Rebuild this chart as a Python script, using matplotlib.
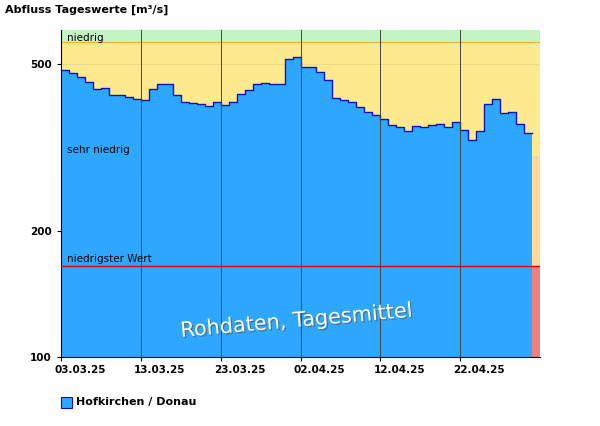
import matplotlib
matplotlib.use("Agg")
import matplotlib.pyplot as plt
import matplotlib.patheffects as pe
import numpy as np

values = [484,476,465,453,436,438,422,422,418,413,410,436,448,448,422,406,404,402,397,406,
          399,406,424,434,447,451,447,448,514,520,492,492,479,458,416,410,406,395,384,378,
          370,358,354,346,356,354,358,360,354,364,348,329,346,402,413,382,384,360,343]
tick_labels = ["03.03.25","13.03.25","23.03.25","02.04.25","12.04.25","22.04.25"]
tick_days = [0,10,20,30,40,50]
y_ticks = [100,200,500]
thr_niedrig = 565
thr_sehr = 300
thr_min = 165
ymax = 603
ndays = 60

fig = plt.figure(figsize=(6,4.26), dpi=100)
ax = fig.add_axes([61/600, 1-357/426, 479/600, 327/426])
ax.set_yscale("log")
ax.set_xlim(0, ndays); ax.set_ylim(100, ymax)
ax.axhspan(thr_niedrig, ymax, color="#c2f5c2", zorder=0)
ax.axhspan(thr_sehr, thr_niedrig, color="#ffe98e", zorder=0)
ax.axhspan(thr_min, thr_sehr, color="#ffd99a", zorder=0)
ax.axhspan(100, thr_min, color="#f08080", zorder=0)
ax.axhline(thr_niedrig, color="#f0b030", lw=0.8, zorder=1)
ax.axhline(thr_sehr, color="#d8d8d8", lw=0.8, zorder=1)
ax.axhline(500, color="#e8d880", lw=0.6, zorder=1)
x = np.arange(len(values)+1)
yv = values + [values[-1]]
ax.fill_between(x, 100, yv, step="post", color="#2ea8ff", zorder=2, lw=0)
ax.step(x, yv, where="post", color="#1010c0", lw=1, zorder=3)
ax.axhline(thr_min, color="#e00000", lw=1, zorder=4)
for d in tick_days[1:]:
    ax.axvline(d, color="#444444", lw=0.7, zorder=4)
ax.set_xticks(tick_days)
ax.set_xticklabels([])
ax.set_xticks([d + 2.4 for d in tick_days], minor=True)
ax.set_xticklabels(tick_labels, minor=True, fontsize=7.5, fontweight="bold")
ax.tick_params(axis="x", which="minor", length=0, pad=6)
ax.set_yticks(y_ticks)
ax.set_yticklabels([str(v) for v in y_ticks], fontsize=7.5, fontweight="bold")
ax.yaxis.set_minor_locator(matplotlib.ticker.NullLocator())
ax.tick_params(which="major", length=3)
for s in ["top","right"]:
    ax.spines[s].set_visible(False)
ax.text(0.7, 578, "niedrig", fontsize=7.5, va="center", zorder=5)
ax.text(0.7, 312, "sehr niedrig", fontsize=7.5, va="center", zorder=5)
ax.text(0.7, 171, "niedrigster Wert", fontsize=7.5, va="center", zorder=5)
ax.text(29.5, 122, "Rohdaten, Tagesmittel", fontsize=15, color="white", rotation=5,
        ha="center", va="center", zorder=6,
        path_effects=[pe.SimplePatchShadow(offset=(1,-1), shadow_rgbFace="#555555", alpha=0.6), pe.Normal()])
fig.text(5/600, 1-10/426, "Abfluss Tageswerte [m³/s]", fontsize=8, fontweight="bold", va="center")
fig.patches.append(matplotlib.patches.Rectangle((61/600, 1-408/426), 11/600, 11/426,
                   transform=fig.transFigure, facecolor="#2ea8ff", edgecolor="#1010c0", lw=0.8))
fig.text(76/600, 1-402/426, "Hofkirchen / Donau", fontsize=8, fontweight="bold", va="center")
fig.savefig("out.png", dpi=100)
